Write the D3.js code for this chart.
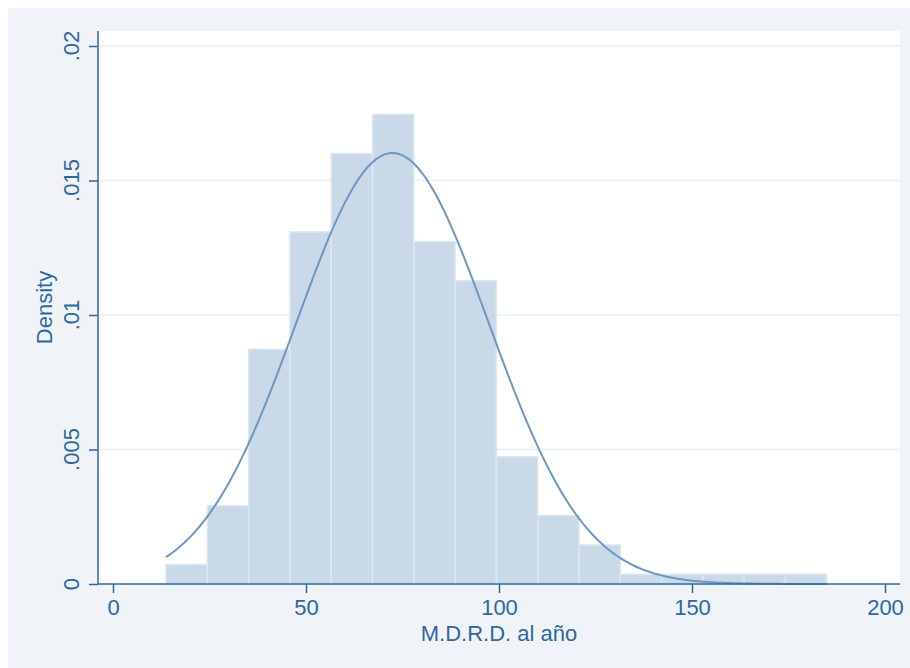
<!DOCTYPE html>
<html>
<head>
<meta charset="utf-8">
<script src="https://cdn.jsdelivr.net/npm/d3@7"></script>
<style>
  html, body { margin: 0; padding: 0; background: #ffffff; }
  svg { display: block; font-family: "Liberation Sans", Arial, Helvetica, sans-serif; }
</style>
</head>
<body>
<svg id="chart" width="910" height="668"></svg>
<script>
// Histogram of M.D.R.D. al año: bin layout and per-bin counts
const binStart = 13.73;
const binWidth = 10.7;
const binCounts = [2, 8, 24, 36, 44, 48, 35, 31, 13, 7, 4, 1, 1, 1, 1, 1];
const nObs = 257;

// Normal density overlay parameters
const normMean = 72.4;
const normSd = 24.9;

// Axis ticks
const xTicks = [0, 50, 100, 150, 200];
const yTicks = [0, 0.005, 0.01, 0.015, 0.02];
const yTickLabels = ["0", ".005", ".01", ".015", ".02"];

const xTitle = "M.D.R.D. al año";
const yTitle = "Density";

const col = {
  page: "#f0f4f9",
  plot: "#ffffff",
  grid: "#eaf0f6",
  axis: "#2f679f",
  barFill: "#c9d9e8",
  barEdge: "#dde7f1",
  curve: "#6e97c3"
};

const svg = d3.select("#chart");
const plot = { left: 98, right: 900, top: 31, bottom: 584 };

const x = d3.scaleLinear().domain([0, 200]).range([113, 885]);
const y = d3.scaleLinear().domain([0, 0.02]).range([584, 46]);

// page background and plot region
svg.append("rect").attr("x", 8).attr("y", 8).attr("width", 902).attr("height", 660).attr("fill", col.page);
svg.append("rect").attr("x", plot.left).attr("y", plot.top)
  .attr("width", plot.right - plot.left).attr("height", plot.bottom - plot.top).attr("fill", col.plot);

// horizontal grid lines
svg.append("g").selectAll("line").data(yTicks.filter(d => d > 0)).join("line")
  .attr("x1", plot.left).attr("x2", plot.right)
  .attr("y1", d => y(d)).attr("y2", d => y(d))
  .attr("stroke", col.grid).attr("stroke-width", 1.5);

// histogram bars (density = count / (n * width))
const bins = binCounts.map((c, i) => ({
  x0: binStart + i * binWidth,
  x1: binStart + (i + 1) * binWidth,
  density: c / (nObs * binWidth)
}));
svg.append("g").selectAll("rect").data(bins).join("rect")
  .attr("x", d => x(d.x0))
  .attr("y", d => y(d.density))
  .attr("width", d => x(d.x1) - x(d.x0))
  .attr("height", d => y(0) - y(d.density))
  .attr("fill", col.barFill)
  .attr("stroke", col.barEdge)
  .attr("stroke-width", 1.5);

// normal density curve over the data range
const xMin = binStart, xMax = binStart + binCounts.length * binWidth;
const pdf = v => Math.exp(-0.5 * Math.pow((v - normMean) / normSd, 2)) / (normSd * Math.sqrt(2 * Math.PI));
const curvePts = d3.range(0, 301).map(i => {
  const v = xMin + (xMax - xMin) * i / 300;
  return [v, pdf(v)];
});
svg.append("path")
  .datum(curvePts)
  .attr("fill", "none")
  .attr("stroke", col.curve)
  .attr("stroke-width", 2)
  .attr("d", d3.line().x(d => x(d[0])).y(d => y(d[1])));

// y axis
const yAxis = svg.append("g").attr("transform", `translate(${plot.left},0)`)
  .call(d3.axisLeft(y).tickValues(yTicks).tickSize(9).tickPadding(0).tickFormat(""));
yAxis.select(".domain").remove();
yAxis.selectAll(".tick line").attr("stroke", col.axis).attr("stroke-width", 1.5);
svg.append("line").attr("x1", plot.left).attr("x2", plot.left)
  .attr("y1", plot.top).attr("y2", plot.bottom)
  .attr("stroke", col.axis).attr("stroke-width", 1.5);
svg.append("g").selectAll("text").data(yTicks).join("text")
  .attr("transform", (d) => `translate(79,${y(d)}) rotate(-90)`)
  .attr("text-anchor", "middle")
  .attr("font-size", 22)
  .attr("fill", col.axis)
  .text((d, i) => yTickLabels[i]);

// x axis
const xAxis = svg.append("g").attr("transform", `translate(0,${plot.bottom})`)
  .call(d3.axisBottom(x).tickValues(xTicks).tickSize(9).tickPadding(6).tickFormat(d3.format("d")));
xAxis.select(".domain").remove();
xAxis.selectAll(".tick line").attr("stroke", col.axis).attr("stroke-width", 1.5);
xAxis.selectAll(".tick text").attr("fill", col.axis).attr("font-size", 22)
  .attr("font-family", "'Liberation Sans', Arial, sans-serif");
svg.append("line").attr("x1", plot.left).attr("x2", plot.right)
  .attr("y1", plot.bottom).attr("y2", plot.bottom)
  .attr("stroke", col.axis).attr("stroke-width", 1.5);

// axis titles
svg.append("text")
  .attr("x", (plot.left + plot.right) / 2).attr("y", 641)
  .attr("text-anchor", "middle").attr("font-size", 22).attr("fill", col.axis)
  .text(xTitle);
svg.append("text")
  .attr("transform", `translate(52,${(plot.top + plot.bottom) / 2}) rotate(-90)`)
  .attr("text-anchor", "middle").attr("font-size", 22).attr("fill", col.axis)
  .text(yTitle);
</script>
</body>
</html>
